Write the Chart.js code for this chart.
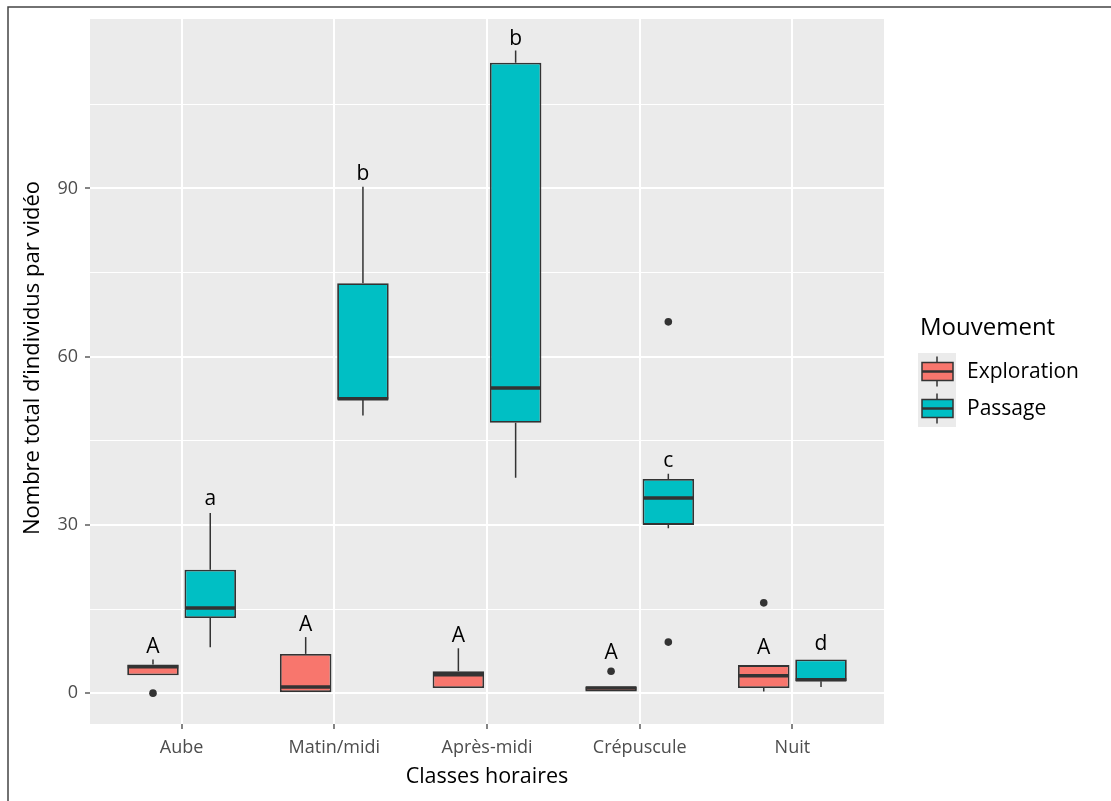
<!DOCTYPE html>
<html>
<head>
<meta charset="utf-8">
<script src="https://cdn.jsdelivr.net/npm/chart.js@4.4.1/dist/chart.umd.min.js"></script>
<style>
  html, body { margin: 0; padding: 0; background: #fff; }
</style>
</head>
<body>
<canvas id="chart" width="1111" height="801"></canvas>
<script>
const categories = ["Aube", "Matin/midi", "Après-midi", "Crépuscule", "Nuit"];

// Exploration boxes (whisker low, Q1, median, Q3, whisker high, outliers)
const explorationMin = [3.2, 0, 0.9, 0.3, 0.3];
const explorationQ1 = [3.2, 0, 0.9, 0.3, 0.9];
const explorationMed = [4.7, 1.1, 3.3, 0.9, 3.1];
const explorationQ3 = [5.1, 7.0, 3.9, 1.2, 5.0];
const explorationMax = [6.0, 10.0, 8.0, 1.2, 5.0];
const explorationOut = [[0], [], [], [3.9], [16.1]];
const explorationLetters = ["A", "A", "A", "A", "A"];
const explorationLetterY = [7.2, 11.0, 9.2, 6.1, 6.9];

// Passage boxes
const passageMin = [8.2, 49.5, 38.4, 29.4, 1.1];
const passageQ1 = [13.4, 52.3, 48.2, 30.0, 2.1];
const passageMed = [15.2, 52.5, 54.4, 34.8, 2.4];
const passageQ3 = [22.0, 73.1, 112.4, 38.2, 6.0];
const passageMax = [32.1, 90.3, 114.6, 39.1, 6.0];
const passageOut = [[], [], [], [66.2, 9.1], []];
const passageLetters = ["a", "b", "b", "c", "d"];
const passageLetterY = [33.6, 91.5, 115.6, 40.4, 7.75];

const yMajor = [0, 30, 60, 90];
const yMinor = [15, 45, 75, 105];
const yLimits = [-5.5, 120.2];

const FONT = "'Open Sans', 'Noto Sans', sans-serif";
const INK = "#333333";

const series = [
  { label: "Exploration", color: "#F8766D", min: explorationMin, q1: explorationQ1, med: explorationMed,
    q3: explorationQ3, max: explorationMax, out: explorationOut, letters: explorationLetters, letterY: explorationLetterY },
  { label: "Passage", color: "#00BFC4", min: passageMin, q1: passageQ1, med: passageMed,
    q3: passageQ3, max: passageMax, out: passageOut, letters: passageLetters, letterY: passageLetterY },
];

const boxPlugin = {
  id: "boxes",
  beforeDraw(chart) {
    const { ctx, chartArea: a } = chart;
    ctx.save();
    ctx.fillStyle = "#EBEBEB";
    ctx.fillRect(a.left, a.top, a.right - a.left, a.bottom - a.top);
    ctx.restore();
  },
  beforeDatasetsDraw(chart) {
    const { ctx } = chart;
    const y = chart.scales.y;
    ctx.save();
    ctx.strokeStyle = INK;
    ctx.lineWidth = 1.5;
    series.forEach((s, di) => {
      chart.getDatasetMeta(di).data.forEach((el, i) => {
        ctx.beginPath();
        ctx.moveTo(el.x, y.getPixelForValue(s.q3[i]));
        ctx.lineTo(el.x, y.getPixelForValue(s.max[i]));
        ctx.moveTo(el.x, y.getPixelForValue(s.q1[i]));
        ctx.lineTo(el.x, y.getPixelForValue(s.min[i]));
        ctx.stroke();
      });
    });
    ctx.restore();
  },
  afterDatasetsDraw(chart) {
    const { ctx } = chart;
    const y = chart.scales.y;
    ctx.save();
    series.forEach((s, di) => {
      chart.getDatasetMeta(di).data.forEach((el, i) => {
        const half = el.width / 2;
        const ym = y.getPixelForValue(s.med[i]);
        ctx.strokeStyle = INK;
        ctx.lineWidth = 3.5;
        ctx.beginPath();
        ctx.moveTo(el.x - half + 0.5, ym);
        ctx.lineTo(el.x + half - 0.5, ym);
        ctx.stroke();

        ctx.fillStyle = INK;
        s.out[i].forEach((v) => {
          ctx.beginPath();
          ctx.arc(el.x, y.getPixelForValue(v), 3.8, 0, Math.PI * 2);
          ctx.fill();
        });

        ctx.fillStyle = "#000";
        ctx.font = "21px " + FONT;
        ctx.textAlign = "center";
        ctx.textBaseline = "alphabetic";
        ctx.fillText(s.letters[i], el.x, y.getPixelForValue(s.letterY[i]));
      });
    });
    ctx.restore();
  },
  afterDraw(chart) {
    const { ctx } = chart;
    ctx.save();
    // y axis title
    ctx.fillStyle = "#000";
    ctx.font = "22px " + FONT;
    ctx.textAlign = "center";
    ctx.textBaseline = "middle";
    ctx.translate(33, 358);
    ctx.rotate(-Math.PI / 2);
    ctx.fillText("Nombre total d’individus par vidéo", 0, 0);
    ctx.restore();

    // legend
    ctx.save();
    ctx.fillStyle = "#000";
    ctx.font = "24px " + FONT;
    ctx.textAlign = "left";
    ctx.textBaseline = "middle";
    ctx.fillText("Mouvement", 920, 328);
    series.forEach((s, k) => {
      const top = 353 + k * 37;
      ctx.fillStyle = "#EBEBEB";
      ctx.fillRect(918, top, 38, 37);
      const cx = 937, cy = top + 18.5;
      ctx.strokeStyle = INK;
      ctx.lineWidth = 1.5;
      ctx.beginPath();
      ctx.moveTo(cx, cy - 15);
      ctx.lineTo(cx, cy + 15);
      ctx.stroke();
      ctx.fillStyle = s.color;
      ctx.fillRect(922, cy - 9, 31, 18);
      ctx.strokeRect(922, cy - 9, 31, 18);
      ctx.lineWidth = 2.5;
      ctx.beginPath();
      ctx.moveTo(922, cy);
      ctx.lineTo(953, cy);
      ctx.stroke();
      ctx.fillStyle = "#000";
      ctx.font = "21px " + FONT;
      ctx.fillText(s.label, 967, cy + 1);
    });
    ctx.restore();

    // outer frame of the screenshot
    ctx.save();
    ctx.strokeStyle = "#444";
    ctx.lineWidth = 1.5;
    ctx.beginPath();
    ctx.moveTo(8, 801);
    ctx.lineTo(8, 7);
    ctx.lineTo(1111, 7);
    ctx.stroke();
    ctx.restore();
  },
};

new Chart(document.getElementById("chart"), {
  type: "bar",
  data: {
    labels: categories,
    datasets: series.map((s) => ({
      label: s.label,
      data: categories.map((c, i) => [s.q1[i], s.q3[i]]),
      backgroundColor: s.color,
      borderColor: INK,
      borderWidth: 1.8,
      borderSkipped: false,
      categoryPercentage: 0.75,
      barPercentage: 0.9,
    })),
  },
  options: {
    responsive: false,
    animation: false,
    devicePixelRatio: 1,
    layout: { padding: { left: 0, top: 19, right: 227, bottom: 0 } },
    plugins: { legend: { display: false }, tooltip: { enabled: false } },
    scales: {
      x: {
        offset: true,
        // ggplot discrete axis: 0.6 category of room on each side
        afterBuildTicks(s) {
          s._startValue = -0.6;
          s._valueRange = categories.length + 0.2;
        },
        afterFit(s) { s.height = 77; },
        grid: { offset: false, color: "#fff", lineWidth: 2, tickColor: INK, tickLength: 5, tickWidth: 1.2 },
        border: { display: false },
        ticks: { color: "#4D4D4D", font: { family: FONT, size: 18 }, padding: 8 },
        title: { display: true, text: "Classes horaires", color: "#000",
          font: { family: FONT, size: 21.5 }, padding: { top: 0, bottom: 11 } },
      },
      y: {
        min: yLimits[0],
        max: yLimits[1],
        afterBuildTicks(s) {
          s.ticks = [...yMajor, ...yMinor].sort((a, b) => a - b).map((v) => ({ value: v }));
        },
        afterFit(s) { s.width = 90; },
        grid: {
          color: "#fff",
          lineWidth: (c) => (yMajor.includes(c.tick.value) ? 2 : 1),
          tickColor: (c) => (yMajor.includes(c.tick.value) ? INK : "rgba(0,0,0,0)"),
          tickLength: 5,
          tickWidth: 1.2,
        },
        border: { display: false },
        ticks: {
          color: "#4D4D4D",
          font: { family: FONT, size: 18 },
          padding: 7,
          callback: (v) => (yMajor.includes(v) ? String(v) : ""),
        },
      },
    },
  },
  plugins: [boxPlugin],
});
</script>
</body>
</html>
